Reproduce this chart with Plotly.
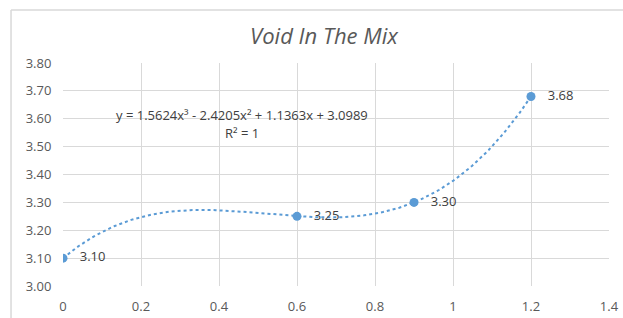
import numpy as np
import plotly.graph_objects as go

x_vals = [0, 0.6, 0.9, 1.2]
y_vals = [3.10, 3.25, 3.30, 3.68]
x_ticks = [0, 0.2, 0.4, 0.6, 0.8, 1.0, 1.2, 1.4]
x_tick_labels = ["0", "0.2", "0.4", "0.6", "0.8", "1", "1.2", "1.4"]
y_ticks = [3.00, 3.10, 3.20, 3.30, 3.40, 3.50, 3.60, 3.70, 3.80]
y_tick_labels = ["%.2f" % v for v in y_ticks]
equation_line = "y = 1.5624x³ - 2.4205x² + 1.1363x + 3.0989"
r2_line = "R² = 1"
title_text = "Void In The Mix"

BLUE = "#5B9BD5"
GRID = "#d9d9d9"
TXT = "#595959"
FONT = "Open Sans"

coef = np.polyfit(x_vals, y_vals, 3)
xs = np.linspace(min(x_vals), max(x_vals), 200)
ys = np.polyval(coef, xs)

fig = go.Figure()
fig.add_trace(go.Scatter(x=xs, y=ys, mode="lines",
                         line=dict(color=BLUE, width=2, dash="dot"),
                         hoverinfo="skip", showlegend=False))
fig.add_trace(go.Scatter(x=x_vals, y=y_vals, mode="markers+text",
                         marker=dict(color=BLUE, size=9),
                         text=["   %.2f" % v for v in y_vals],
                         textposition="middle right",
                         textfont=dict(color="#404040", size=13, family=FONT),
                         showlegend=False))

fig.add_annotation(x=0.46, y=3.612, xref="x", yref="y", text=equation_line,
                   showarrow=False, align="center", yanchor="middle",
                   font=dict(color="#404040", size=13, family=FONT))
fig.add_annotation(x=0.46, y=3.548, xref="x", yref="y", text=r2_line,
                   showarrow=False, align="center", yanchor="middle",
                   font=dict(color="#404040", size=13, family=FONT))

# outer chart frame (top and left edges visible)
fig.add_shape(type="line", xref="paper", yref="paper",
              x0=-0.0952, x1=1.1, y0=1.2377, y1=1.2377,
              line=dict(color=GRID, width=1.5))
fig.add_shape(type="line", xref="paper", yref="paper",
              x0=-0.0952, x1=-0.0952, y0=1.2377, y1=-0.2,
              line=dict(color=GRID, width=1.5))

fig.update_layout(
    width=623, height=318,
    margin=dict(l=63, r=14, t=63, b=32),
    paper_bgcolor="white", plot_bgcolor="white",
    font=dict(family=FONT, color=TXT, size=13),
    title=dict(text="<i>" + title_text + "</i>", x=0.52, xanchor="center",
               xref="container", yref="container",
               y=0.885, yanchor="middle", automargin=False,
               font=dict(size=22, color=TXT, family=FONT)),
)
fig.update_xaxes(range=[0, 1.4], tickvals=x_ticks, ticktext=x_tick_labels,
                 showgrid=True, gridcolor=GRID, gridwidth=1,
                 zeroline=False, showline=False, automargin=False,
                 ticks="outside", ticklen=8, tickcolor="rgba(0,0,0,0)",
                 tickfont=dict(size=13, color=TXT))
fig.update_yaxes(range=[3.0, 3.8], tickvals=y_ticks, ticktext=y_tick_labels,
                 showgrid=True, gridcolor=GRID, gridwidth=1,
                 zeroline=False, showline=False, automargin=False,
                 ticks="outside", ticklen=8, tickcolor="rgba(0,0,0,0)",
                 tickfont=dict(size=13, color=TXT))

fig.write_html("out.html", config={"displayModeBar": False},
               post_script="document.body.style.margin='0';")
